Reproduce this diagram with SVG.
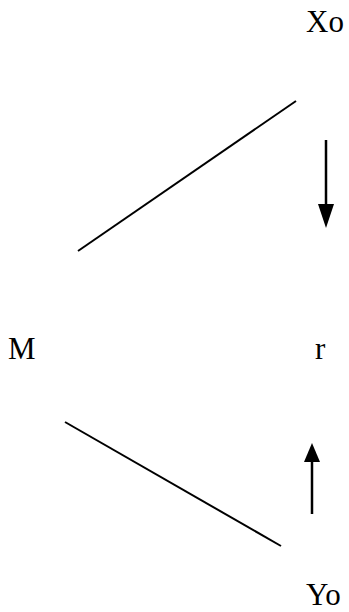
<svg xmlns="http://www.w3.org/2000/svg" width="349" height="612" viewBox="0 0 349 612">
<style>
.lbl{font-family:"Liberation Serif","Times New Roman",serif;font-size:31px;fill:#000}
.ln{stroke:#000;stroke-width:2;fill:none}
.shaft{stroke:#000;stroke-width:2.5;fill:none}
.head{fill:#000}
</style>
<rect width="349" height="612" fill="#fff"/>
<g id="Xo"><text class="lbl" x="306" y="32">Xo</text></g>
<g id="M"><text class="lbl" x="8" y="359">M</text></g>
<g id="r"><text class="lbl" x="315" y="359">r</text></g>
<g id="Yo"><text class="lbl" x="306" y="605">Yo</text></g>
<g id="connectors">
<line class="ln" x1="78" y1="251" x2="296" y2="101"/>
<line class="ln" x1="65" y1="422" x2="281" y2="546"/>
<path class="shaft" d="M326,140 V205"/>
<path class="head" d="M318,204 L334,204 L326,228 Z"/>
<path class="shaft" d="M312,514 V461"/>
<path class="head" d="M304,462 L320,462 L312,443 Z"/>
</g>
</svg>
